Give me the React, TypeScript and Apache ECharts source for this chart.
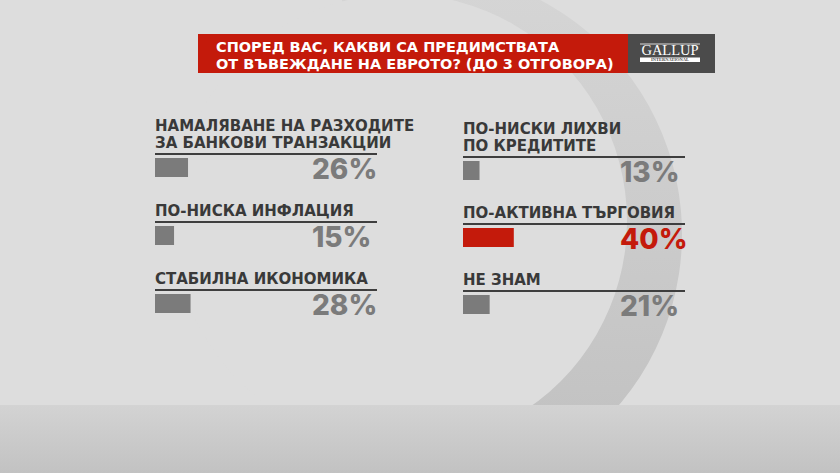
import React, { useEffect, useRef } from "react";
import * as echarts from "echarts";

const titleLines = [
  "СПОРЕД ВАС, КАКВИ СА ПРЕДИМСТВАТА",
  "ОТ ВЪВЕЖДАНЕ НА ЕВРОТО? (ДО 3 ОТГОВОРА)",
];
const leftCategories = [
  "НАМАЛЯВАНЕ НА РАЗХОДИТЕ\nЗА БАНКОВИ ТРАНЗАКЦИИ",
  "ПО-НИСКА ИНФЛАЦИЯ",
  "СТАБИЛНА ИКОНОМИКА",
];
const leftValues = [26, 15, 28];
const rightCategories = [
  "ПО-НИСКИ ЛИХВИ\nПО КРЕДИТИТЕ",
  "ПО-АКТИВНА ТЪРГОВИЯ",
  "НЕ ЗНАМ",
];
const rightValues = [13, 40, 21];
const highlightCategory = "ПО-АКТИВНА ТЪРГОВИЯ";

const BG = "#dddddd";
const RED = "#c41a0b";
const GREY = "#7b7b7b";
const DARK = "#393939";
const LABEL_FONT = "DejaVu Sans";
const NUM_FONT = "Inter";

function makeSeries(gridIndex: number, cats: string[], vals: number[]) {
  return {
    type: "custom",
    xAxisIndex: gridIndex,
    yAxisIndex: gridIndex,
    encode: { x: 1, y: 0 },
    data: vals.map((v, i) => [i, v]),
    renderItem: (params: any, api: any) => {
      const idx = api.value(0);
      const val = api.value(1);
      const start = api.coord([0, idx]);
      const end = api.coord([val, idx]);
      const x0 = start[0];
      const u = start[1];
      const label = cats[params.dataIndex];
      const hi = label === highlightCategory;
      return {
        type: "group",
        children: [
          {
            type: "text",
            x: x0,
            y: u - 3,
            style: {
              text: label,
              fill: DARK,
              fontFamily: LABEL_FONT,
              fontWeight: 700,
              fontSize: 15,
              lineHeight: 17,
              align: "left",
              verticalAlign: "bottom",
            },
          },
          {
            type: "line",
            shape: { x1: x0, y1: u, x2: x0 + 222, y2: u },
            style: { stroke: "#3e3e3e", lineWidth: 2 },
          },
          {
            type: "rect",
            shape: { x: x0, y: u + 4, width: end[0] - x0, height: 19 },
            style: { fill: hi ? RED : GREY },
          },
          {
            type: "text",
            x: x0 + 157,
            y: u + 15,
            style: {
              text: val + "%",
              fill: hi ? RED : GREY,
              fontFamily: NUM_FONT,
              fontWeight: 800,
              fontSize: 28,
              align: "left",
              verticalAlign: "middle",
            },
          },
        ],
      };
    },
  };
}

export default function App() {
  const ref = useRef<HTMLDivElement>(null);
  useEffect(() => {
    document.body.style.margin = "0";
    const chart = echarts.init(ref.current!, null, { renderer: "svg" });
    const option: any = {
      animation: false,
      backgroundColor: BG,
      grid: [
        { left: 155, top: 120, width: 127, height: 204 },
        { left: 463, top: 123.5, width: 127, height: 201 },
      ],
      xAxis: [
        { type: "value", min: 0, max: 100, show: false, gridIndex: 0 },
        { type: "value", min: 0, max: 100, show: false, gridIndex: 1 },
      ],
      yAxis: [
        { type: "category", data: leftCategories, inverse: true, show: false, gridIndex: 0 },
        { type: "category", data: rightCategories, inverse: true, show: false, gridIndex: 1 },
      ],
      graphic: [
        {
          type: "sector",
          silent: true,
          shape: {
            cx: 418,
            cy: 234,
            r: 264,
            r0: 0,
            startAngle: -Math.PI * 0.6,
            endAngle: Math.PI * 0.62,
          },
          style: {
            fill: new echarts.graphic.LinearGradient(0, 0, 0, 1, [
              { offset: 0, color: "#d6d6d6" },
              { offset: 0.5, color: "#cbcbcb" },
              { offset: 1, color: "#bfbfbf" },
            ]),
          },
        },
        {
          type: "circle",
          silent: true,
          shape: { cx: 400, cy: 221, r: 227 },
          style: { fill: BG },
        },
        {
          type: "rect",
          silent: true,
          shape: { x: 0, y: 405, width: 840, height: 68 },
          style: {
            fill: new echarts.graphic.LinearGradient(0, 0, 0, 1, [
              { offset: 0, color: "#d3d3d3" },
              { offset: 1, color: "#c2c2c2" },
            ]),
          },
        },
        {
          type: "rect",
          silent: true,
          shape: { x: 198, y: 34, width: 430, height: 39 },
          style: { fill: RED },
        },
        {
          type: "rect",
          silent: true,
          shape: { x: 628, y: 34, width: 87, height: 39 },
          style: { fill: "#4b4b4b" },
        },
        {
          type: "text",
          silent: true,
          x: 216,
          y: 46.5,
          style: {
            text: titleLines[0],
            fill: "#ffffff",
            fontFamily: LABEL_FONT,
            fontWeight: 700,
            fontSize: 14.5,
            verticalAlign: "middle",
          },
        },
        {
          type: "text",
          silent: true,
          x: 216,
          y: 63.5,
          style: {
            text: titleLines[1],
            fill: "#ffffff",
            fontFamily: LABEL_FONT,
            fontWeight: 700,
            fontSize: 14.5,
            verticalAlign: "middle",
          },
        },
        {
          type: "line",
          silent: true,
          shape: { x1: 640, y1: 44, x2: 700, y2: 44 },
          style: { stroke: "#ffffff", lineWidth: 0.8 },
        },
        {
          type: "text",
          silent: true,
          x: 670,
          y: 50,
          style: {
            text: "GALLUP",
            fill: "#ffffff",
            fontFamily: "Liberation Serif",
            fontSize: 14.5,
            align: "center",
            verticalAlign: "middle",
          },
        },
        {
          type: "rect",
          silent: true,
          shape: { x: 640, y: 57.5, width: 60, height: 4.5 },
          style: { fill: "#ffffff" },
        },
        {
          type: "text",
          silent: true,
          x: 670,
          y: 59.8,
          style: {
            text: "INTERNATIONAL",
            fill: "#4b4b4b",
            fontFamily: "Liberation Serif",
            fontWeight: 700,
            fontSize: 4.5,
            align: "center",
            verticalAlign: "middle",
          },
        },
      ],
      series: [
        makeSeries(0, leftCategories, leftValues),
        makeSeries(1, rightCategories, rightValues),
      ],
    };
    chart.setOption(option);
    return () => chart.dispose();
  }, []);
  return <div ref={ref} style={{ width: 840, height: 473 }} />;
}
